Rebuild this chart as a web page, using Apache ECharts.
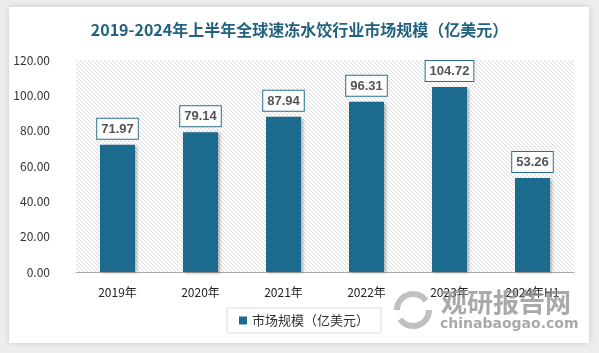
<!DOCTYPE html>
<html>
<head>
<meta charset="utf-8">
<script src="https://cdn.jsdelivr.net/npm/echarts@6/dist/echarts.min.js"></script>
<style>
  html, body { margin: 0; padding: 0; background: #ededed; }
  #chart { width: 599px; height: 353px; }
</style>
</head>
<body>
<div id="chart"></div>
<script>
  var years = ['2019年', '2020年', '2021年', '2022年', '2023年', '2024年H1'];
  var marketSize = [71.97, 79.14, 87.94, 96.31, 104.72, 53.26];
  var seriesName = '市场规模（亿美元）';

  // 斜线底纹
  var hatch = document.createElement('canvas');
  hatch.width = 4;
  hatch.height = 4;
  var hctx = hatch.getContext('2d');
  hctx.fillStyle = '#ffffff';
  hctx.fillRect(0, 0, 4, 4);
  hctx.strokeStyle = '#dadada';
  hctx.lineWidth = 1;
  hctx.beginPath();
  hctx.moveTo(0, 0); hctx.lineTo(4, 4);
  hctx.moveTo(-1, 3); hctx.lineTo(1, 5);
  hctx.moveTo(3, -1); hctx.lineTo(5, 1);
  hctx.stroke();

  var chart = echarts.init(document.getElementById('chart'));
  var option = {
    backgroundColor: 'transparent',
    animation: false,
    textStyle: { fontFamily: '"Noto Sans CJK SC", "Noto Sans", sans-serif' },
    title: {
      text: '2019-2024年上半年全球速冻水饺行业市场规模（亿美元）',
      left: 'center',
      top: 17,
      textStyle: { color: '#22617f', fontSize: 16, fontWeight: 'bold', fontFamily: '"Noto Sans CJK SC", serif' }
    },
    graphic: [
      {
        type: 'rect', z: -10, silent: true,
        shape: { x: 9, y: 7, width: 580, height: 336 },
        style: { fill: '#ffffff', shadowBlur: 6, shadowColor: 'rgba(0,0,0,0.15)' }
      },
      {
        type: 'text', z: 100, silent: true, left: 441, top: 289,
        style: { text: '观研报告网', fill: 'rgba(140,140,140,0.75)', fontSize: 26, fontWeight: 'bold', fontFamily: '"Noto Sans CJK SC"' }
      },
      {
        type: 'text', z: 100, silent: true, left: 440, top: 317,
        style: { text: 'chinabaogao.com', fill: 'rgba(140,140,140,0.75)', fontSize: 14, fontWeight: 'bold', fontFamily: '"DejaVu Sans"' }
      },
      {
        type: 'circle', z: 100, silent: true,
        shape: { cx: 413, cy: 310, r: 16 },
        style: { fill: 'none', stroke: 'rgba(150,150,150,0.6)', lineWidth: 6, lineDash: [40, 10] }
      }
    ],
    grid: {
      left: 76, right: 25, top: 60, bottom: 81,
      show: true,
      borderWidth: 0,
      backgroundColor: { image: hatch, repeat: 'repeat' }
    },
    legend: {
      data: [seriesName],
      left: 227,
      top: 308,
      itemWidth: 8,
      itemHeight: 8,
      icon: 'rect',
      padding: [6, 12],
      borderColor: '#dddddd',
      borderWidth: 1,
      backgroundColor: '#ffffff',
      textStyle: { fontSize: 13, color: '#333' }
    },
    xAxis: {
      type: 'category',
      data: years,
      axisLine: { lineStyle: { color: '#aaaaaa' } },
      axisTick: { show: false },
      axisLabel: { color: '#222', fontSize: 12, margin: 14 }
    },
    yAxis: {
      type: 'value',
      min: 0,
      max: 120,
      interval: 20,
      splitLine: { show: false },
      axisLine: { show: false },
      axisTick: { show: false },
      axisLabel: {
        color: '#333', fontSize: 12, margin: 26,
        formatter: function (v) { return v.toFixed(2); }
      }
    },
    series: [{
      name: seriesName,
      type: 'bar',
      data: marketSize,
      barWidth: 35,
      itemStyle: {
        color: '#1c6a8d',
        shadowColor: 'rgba(0,0,0,0.3)',
        shadowBlur: 3,
        shadowOffsetX: 2,
        shadowOffsetY: 1
      },
      label: {
        show: true,
        position: 'top',
        distance: 6,
        color: '#555',
        fontSize: 13,
        fontWeight: 'bold',
        fontFamily: '"Liberation Sans", Arial, sans-serif',
        backgroundColor: '#ffffff',
        borderColor: '#2a6f8f',
        borderWidth: 1,
        padding: [4, 4, 3, 4],
        formatter: function (p) { return p.value.toFixed(2); }
      }
    }]
  };
  chart.setOption(option);
</script>
</body>
</html>
